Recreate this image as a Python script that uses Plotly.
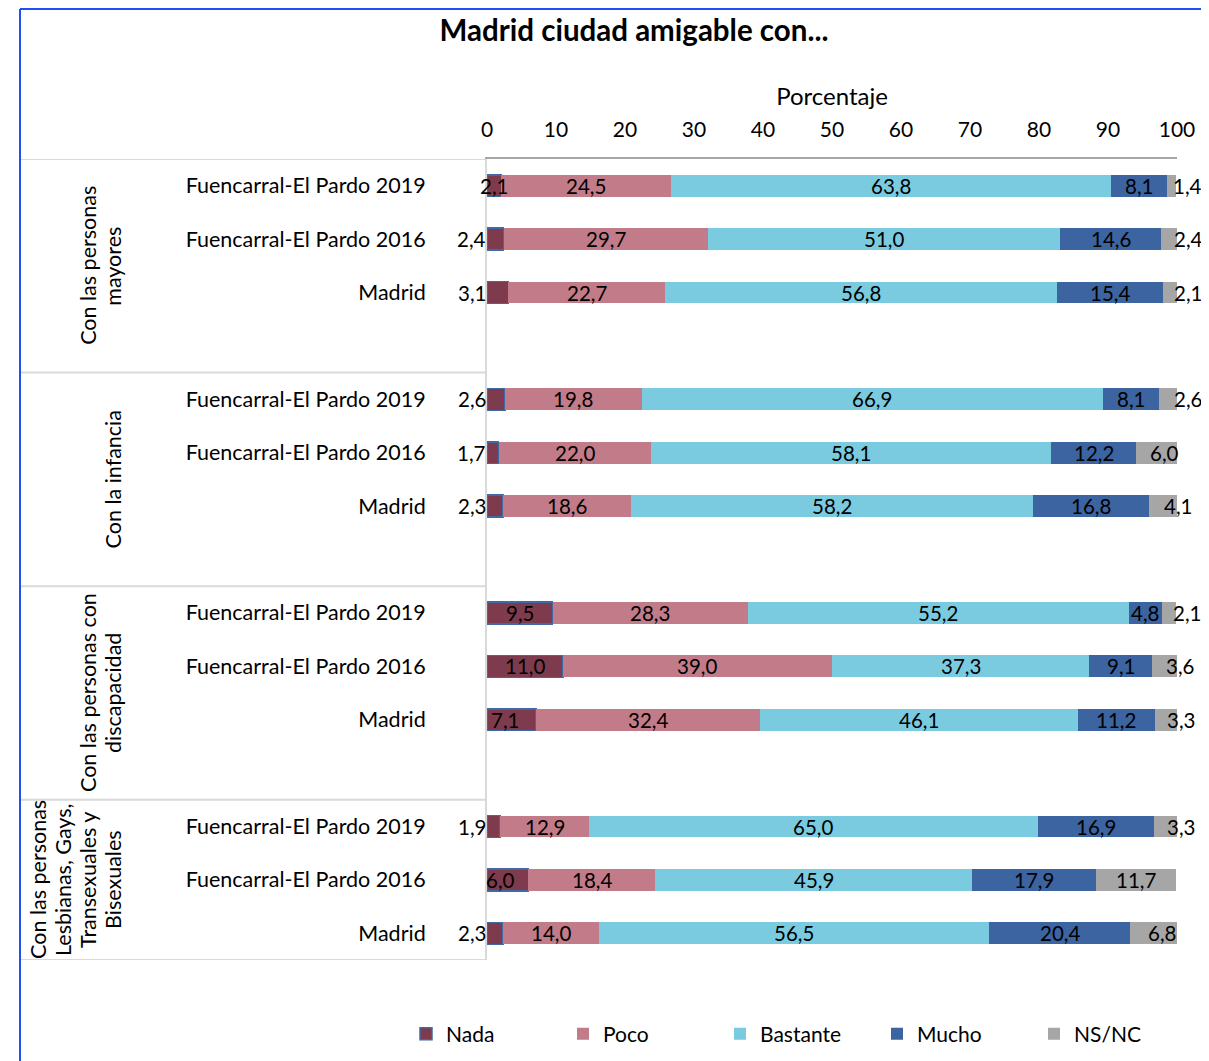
import plotly.graph_objects as go

# ---------------- data ----------------
groups = [
    ["Con las personas", "mayores"],
    ["Con la infancia"],
    ["Con las personas con", "discapacidad"],
    ["Con las personas", "Lesbianas, Gays,", "Transexuales y", "Bisexuales"],
]
rows = ["Fuencarral-El Pardo 2019", "Fuencarral-El Pardo 2016", "Madrid"]
series = ["Nada", "Poco", "Bastante", "Mucho", "NS/NC"]

nada = [2.1, 2.4, 3.1, 2.6, 1.7, 2.3, 9.5, 11.0, 7.1, 1.9, 6.0, 2.3]
poco = [24.5, 29.7, 22.7, 19.8, 22.0, 18.6, 28.3, 39.0, 32.4, 12.9, 18.4, 14.0]
bastante = [63.8, 51.0, 56.8, 66.9, 58.1, 58.2, 55.2, 37.3, 46.1, 65.0, 45.9, 56.5]
mucho = [8.1, 14.6, 15.4, 8.1, 12.2, 16.8, 4.8, 9.1, 11.2, 16.9, 17.9, 20.4]
nsnc = [1.4, 2.4, 2.1, 2.6, 6.0, 4.1, 2.1, 3.6, 3.3, 3.3, 11.7, 6.8]

x_ticks = [0, 10, 20, 30, 40, 50, 60, 70, 80, 90, 100]

values = [nada, poco, bastante, mucho, nsnc]
colors = ["#7E3B4D", "#C27B89", "#7ACBE0", "#3B64A0", "#A6A6A6"]

FONT = "Lato, 'Noto Sans', sans-serif"
OFF = 8  # page body margin
W, H = 1209 - OFF, 1061 - OFF
L, R = 487 - OFF, 32
T = 159 - OFF
B = H - (960 - OFF)
PW = W - L - R
PH = H - T - B


def px_x(px):
    """viewport pixel x -> paper x"""
    return (px - OFF - L) / PW


def px_y(py):
    """viewport pixel y -> paper y"""
    return (H - B - (py - OFF)) / PH


# positions: 4 slots per group (last slot empty), last group 3 slots
ypos, ylab = [], []
for g in range(len(groups)):
    for r, name in enumerate(rows):
        ypos.append(g * 4 + r)
        ylab.append(name)

ymax = ypos[-1] + 0.5


def fmt(v):
    return f"{v:.1f}".replace(".", ",")


fig = go.Figure()
for s, (name, vals, col) in enumerate(zip(series, values, colors)):
    fig.add_trace(go.Bar(
        y=ypos, x=vals, name=name, orientation="h", width=0.41,
        marker=dict(color=col,
                    line=dict(color="#4169A8" if s == 0 else col,
                              width=1.5 if s == 0 else 0)),
        hoverinfo="skip",
    ))

# data labels
annotations = []
cum = [0.0] * len(ypos)
last = len(values) - 1
for s, vals in enumerate(values):
    for i, v in enumerate(vals):
        left = cum[i]
        center = left + v / 2
        ann = dict(y=ypos[i], text=fmt(v), showarrow=False)
        if s == 0 and v < 5 and i > 0:
            ann.update(x=0, xanchor="right", xshift=1)
        elif s == 0 and 5 <= v < 8:
            ann.update(x=center, xanchor="center", xshift=-7)
        elif s == last and v < 3:
            ann.update(x=min(left + v, 100), xanchor="left", xshift=-5)
        elif s == last and v < 5:
            ann.update(x=center, xanchor="center", xshift=15)
        elif s == last and v < 10:
            ann.update(x=center, xanchor="center", xshift=8)
        else:
            ann.update(x=center, xanchor="center")
        annotations.append(ann)
        cum[i] += v
for a in annotations:
    a.update(yanchor="middle", font=dict(family=FONT, size=20.5, color="#000000"))

# group labels (rotated, one annotation per wrapped line, 25 px line pitch)
for g, glines in enumerate(groups):
    first = ypos[g * 3]
    lastrow = ypos[g * 3 + 2]
    top = first - 0.5
    bottom = lastrow + 0.5 if g == len(groups) - 1 else lastrow + 1.5
    n = len(glines)
    for k, line in enumerate(glines):
        cx = 113 - 25 * (n - 1 - k)
        annotations.append(dict(
            x=px_x(cx), xref="paper", y=(top + bottom) / 2, yref="y",
            text=line, textangle=-90, xanchor="center", yanchor="middle",
            showarrow=False, align="center",
            font=dict(family=FONT, size=21.5, color="#000000"),
        ))

# separator lines
shapes = []
bounds = [-0.5, 3.5, 7.5, 11.5, ymax]
for b in bounds:
    shapes.append(dict(type="line", xref="paper", yref="y", x0=px_x(20), x1=0,
                       y0=b, y1=b, line=dict(color="#D9D9D9", width=2)))
# blue frame
top_frame = (H - B - 1) / PH
shapes.append(dict(type="line", xref="paper", yref="paper", x0=px_x(20), x1=px_x(1215),
                   y0=top_frame, y1=top_frame, line=dict(color="#2050F0", width=2)))
shapes.append(dict(type="line", xref="paper", yref="paper", x0=px_x(20), x1=px_x(20),
                   y0=top_frame, y1=px_y(1075), line=dict(color="#2050F0", width=2)))

fig.update_layout(
    width=W, height=H,
    margin=dict(l=L, r=R, t=T, b=B, autoexpand=False),
    barmode="stack",
    paper_bgcolor="white", plot_bgcolor="white",
    font=dict(family=FONT, size=20, color="#000000"),
    title=dict(text="<b>Madrid ciudad amigable con...</b>", x=(634 - OFF) / W, xanchor="center",
               y=1 - (31 - OFF) / H, yanchor="middle",
               font=dict(family=FONT, size=29.5, color="#000000")),
    xaxis=dict(range=[0, 100], side="top", tickvals=x_ticks, ticktext=[str(t) for t in x_ticks],
               showgrid=False, zeroline=False, showline=True, linecolor="#A6A6A6", linewidth=2,
               ticks="", ticklabelstandoff=12,
               title=dict(text="Porcentaje", standoff=3, font=dict(family=FONT, size=24)),
               tickfont=dict(family=FONT, size=21, color="#000000"), fixedrange=True),
    yaxis=dict(range=[ymax, -0.5], tickvals=ypos, ticktext=ylab, showgrid=False, zeroline=False,
               showline=True, linecolor="#D9D9D9", linewidth=2, ticks="", ticklabelstandoff=55,
               tickfont=dict(family=FONT, size=21.5, color="#000000"), fixedrange=True),
    legend=dict(orientation="h", x=px_x(406), xanchor="left", y=px_y(1034), yanchor="middle",
                entrywidth=112, entrywidthmode="pixels", font=dict(family=FONT, size=21),
                traceorder="normal", itemwidth=30),
    annotations=annotations,
    shapes=shapes,
    showlegend=True,
)

fig.write_html("out.html")
